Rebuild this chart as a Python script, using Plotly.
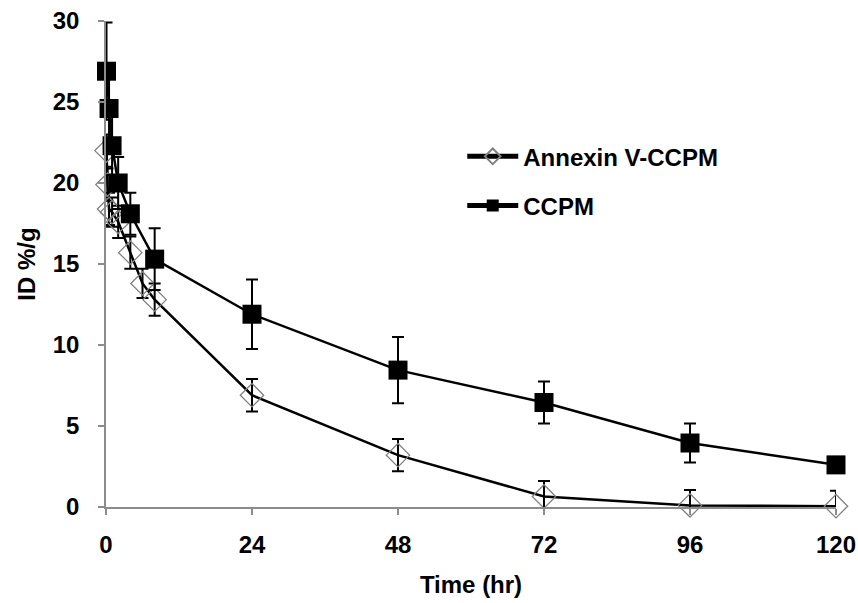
import numpy as np
import plotly.graph_objects as go

# Data
ccpm_time = [0.083, 0.5, 1, 2, 4, 8, 24, 48, 72, 96, 120]
ccpm_val = [26.9, 24.6, 22.3, 20.0, 18.1, 15.3, 11.9, 8.45, 6.45, 3.95, 2.6]
ccpm_err = [3.0, 2.4, 1.8, 1.6, 1.3, 1.9, 2.15, 2.05, 1.3, 1.2, 0.3]

annex_time = [0.083, 0.25, 0.5, 1, 2, 4, 6, 8, 24, 48, 72, 96, 120]
annex_val = [22.0, 19.9, 18.4, 18.2, 17.6, 15.7, 13.8, 12.8, 6.9, 3.2, 0.65, 0.1, 0.05]
annex_err = [1.0, 1.0, 1.0, 0.9, 1.0, 1.0, 0.9, 1.0, 1.0, 1.0, 0.95, 0.95, 0.95]

x_ticks = [0, 24, 48, 72, 96, 120]
y_ticks = [0, 5, 10, 15, 20, 25, 30]

FONT = "Liberation Sans, Arial, sans-serif"
FS = 24

fig = go.Figure()

# Annexin V-CCPM error bars (clipped to plot area)
fig.add_trace(go.Scatter(
    x=annex_time, y=annex_val, mode="markers", showlegend=False, hoverinfo="skip",
    marker=dict(size=1, opacity=0),
    error_y=dict(type="data", array=annex_err, visible=True, color="black", thickness=2, width=6),
    cliponaxis=True,
))
fig.add_trace(go.Scatter(
    x=annex_time, y=annex_val, mode="lines+markers", name="Annexin V-CCPM",
    legendgroup="a",
    line=dict(color="black", width=2.5),
    marker=dict(symbol="diamond-open", size=18, color="#808080", line=dict(color="#808080", width=1.3)),
    cliponaxis=False,
))
# CCPM error bars
fig.add_trace(go.Scatter(
    x=ccpm_time, y=ccpm_val, mode="markers", showlegend=False, hoverinfo="skip",
    marker=dict(size=1, opacity=0),
    error_y=dict(type="data", array=ccpm_err, visible=True, color="black", thickness=2, width=6),
    cliponaxis=True,
))
fig.add_trace(go.Scatter(
    x=ccpm_time, y=ccpm_val, mode="lines+markers", name="CCPM",
    legendgroup="b",
    line=dict(color="black", width=2.5),
    marker=dict(symbol="square", size=19, color="black", line=dict(color="black", width=0)),
    cliponaxis=False,
))

fig.update_layout(
    width=858, height=603,
    margin=dict(l=106, r=22, t=21, b=96, autoexpand=False),
    paper_bgcolor="white", plot_bgcolor="white",
    font=dict(family=FONT, color="black", size=FS),
    legend=dict(
        x=0.488, y=0.767, xanchor="left", yanchor="top",
        font=dict(family=FONT, size=FS, color="black", weight="bold"),
        bgcolor="rgba(0,0,0,0)", tracegroupgap=15, itemsizing="constant",
        traceorder="grouped", itemwidth=51,
    ),
    xaxis=dict(
        range=[0, 120], tickvals=x_ticks, ticktext=[str(v) for v in x_ticks],
        showgrid=False, zeroline=False, showline=True, linecolor="#8c8c8c", linewidth=1.5,
        ticks="outside", ticklen=6, tickcolor="#8c8c8c", tickwidth=1.5,
        tickfont=dict(family=FONT, size=FS, color="black", weight="bold"),
        ticklabelstandoff=9, ticklabeloverflow="allow", automargin=False,
        title=dict(text="Time (hr)", font=dict(family=FONT, size=FS, color="black", weight="bold"), standoff=20),
    ),
    yaxis=dict(
        range=[0, 30], tickvals=y_ticks, ticktext=[str(v) for v in y_ticks],
        showgrid=False, zeroline=False, showline=True, linecolor="#8c8c8c", linewidth=1.5,
        ticks="outside", ticklen=6, tickcolor="#8c8c8c", tickwidth=1.5,
        tickfont=dict(family=FONT, size=FS, color="black", weight="bold"),
        ticklabelstandoff=14, ticklabeloverflow="allow", automargin=False,
        title=dict(text="ID %/g", font=dict(family=FONT, size=FS, color="black", weight="bold"), standoff=10),
    ),
)

fig.write_html(
    "out.html",
    config={"displayModeBar": False},
    post_script="document.body.style.margin='0';document.body.style.overflow='hidden';",
)
